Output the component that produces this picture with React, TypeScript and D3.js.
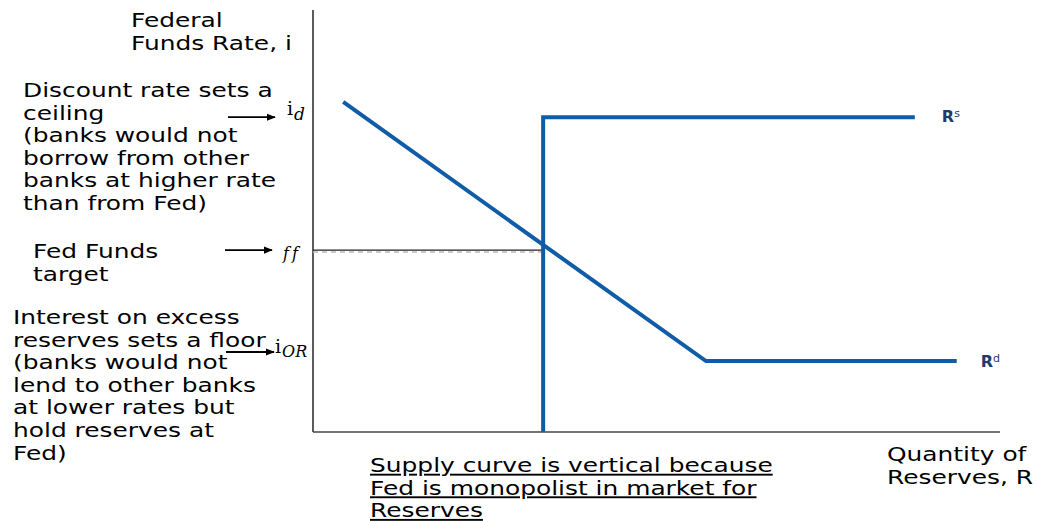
import React from "react";
import * as d3 from "d3";

// ---- data (quantity of reserves, federal funds rate) in arbitrary units ----
const demandQty = [4.4, 57.2, 93.7];
const demandRate = [78.2, 16.8, 16.8];
const supplyQty = [33.5, 33.5, 87.6];
const supplyRate = [0, 74.6, 74.6];
const ffRate = 43.1;
const idRate = 74.6;
const iorRate = 19.0;

const yAxisTitle = ["Federal", "Funds Rate, i"];
const xAxisTitle = ["Quantity of", "Reserves, R"];
const ceilingNote = ["Discount rate sets a", "ceiling", "(banks would not", "borrow from other", "banks at higher rate", "than from Fed)"];
const targetNote = ["Fed Funds", "target"];
const floorNote = ["Interest on excess", "reserves sets a floor", "(banks would not", "lend to other banks", "at lower rates but", "hold reserves at", "Fed)"];
const supplyNote = ["Supply curve is vertical because", "Fed is monopolist in market for", "Reserves"];

const W = 1037;
const H = 521;
const FONT = "'DejaVu Sans', Verdana, sans-serif";
const SERIF = "'DejaVu Serif', 'Liberation Serif', serif";
const BLUE = "#105ca6";
const NAVY = "#1f3a6b";
const SX = 1.31;

export default function App() {
  const x = d3.scaleLinear().domain([0, 100]).range([313, 1000]);
  const y = d3.scaleLinear().domain([0, 100]).range([432, 10]);

  const line = d3.line<[number, number]>().x((d) => x(d[0])).y((d) => y(d[1]));
  const demand = demandQty.map((q, i) => [q, demandRate[i]] as [number, number]);
  const supply = supplyQty.map((q, i) => [q, supplyRate[i]] as [number, number]);

  const fs = 19;
  const lh = 22.6;

  const block = (lines: string[], x0: number, y0: number, extra: any = {}) =>
    lines.map((t, i) => (
      <text
        key={i}
        transform={`translate(${x0},${y0 + i * lh}) scale(${SX},1)`}
        fontFamily={FONT}
        fontSize={fs}
        fill="#000"
        {...extra}
      >
        {t}
      </text>
    ));

  const arrow = (x1: number, x2: number, yy: number) => (
    <line x1={x1} x2={x2} y1={yy} y2={yy} stroke="#000" strokeWidth={1.8} markerEnd="url(#arr)" />
  );

  return (
    <svg width={W} height={H} style={{ position: "absolute", left: 0, top: 0, background: "#fff" }}>
      <defs>
        <marker id="arr" viewBox="0 0 10 10" refX="9" refY="5" markerWidth="5" markerHeight="5" orient="auto" markerUnits="strokeWidth">
          <path d="M0,1 L10,5 L0,9 z" fill="#000" />
        </marker>
      </defs>

      {/* axes */}
      <line x1={x(0)} x2={x(0)} y1={y(100)} y2={y(0)} stroke="#333" strokeWidth={1.6} />
      <line x1={x(0)} x2={x(100)} y1={y(0)} y2={y(0)} stroke="#444" strokeWidth={1.6} />

      {/* ff guide line */}
      <line x1={x(0)} x2={x(supplyQty[0])} y1={y(ffRate) + 2} y2={y(ffRate) + 2} stroke="#bbb" strokeWidth={1.5} strokeDasharray="5,4" />
      <line x1={x(0)} x2={x(supplyQty[0])} y1={y(ffRate)} y2={y(ffRate)} stroke="#222" strokeWidth={1.2} />

      {/* curves */}
      <path d={line(supply) || ""} fill="none" stroke={BLUE} strokeWidth={4} strokeLinejoin="miter" />
      <path d={line(demand) || ""} fill="none" stroke={BLUE} strokeWidth={4} strokeLinejoin="miter" />

      {/* curve labels */}
      <text x={x(supplyQty[2]) + 27} y={122} fontFamily={FONT} fontSize={16} fontWeight="bold" fill={NAVY}>
        R<tspan fontSize={11} fontWeight="normal" dy={-5}>s</tspan>
      </text>
      <text x={x(demandQty[2]) + 24} y={367} fontFamily={FONT} fontSize={16} fontWeight="bold" fill={NAVY}>
        R<tspan fontSize={11} fontWeight="normal" dy={-5}>d</tspan>
      </text>

      {/* rate tick labels */}
      <text x={287} y={115} fontFamily={SERIF} fontSize={19} fill="#000">
        i<tspan fontStyle="italic" fontSize={17} dx={1} dy={5}>d</tspan>
      </text>
      <text x={283} y={259} fontFamily={SERIF} fontSize={16} fontStyle="italic" fill="#000" letterSpacing={3}>
        ff
      </text>
      <text x={275} y={353} fontFamily={SERIF} fontSize={19} fill="#000">
        i<tspan fontStyle="italic" fontSize={16} dx={1} dy={4}>OR</tspan>
      </text>

      {/* arrows */}
      {arrow(228, 275, y(idRate))}
      {arrow(225, 272, y(ffRate))}
      {arrow(226, 274, 352)}

      {/* axis titles */}
      {block(yAxisTitle, 131, 27)}
      {block(xAxisTitle, 887, 461)}

      {/* notes */}
      {block(ceilingNote, 23, 97)}
      {block(targetNote, 33, 258)}
      {block(floorNote, 13, 324)}
      {block(supplyNote, 370, 472, { textDecoration: "underline" })}
    </svg>
  );
}
